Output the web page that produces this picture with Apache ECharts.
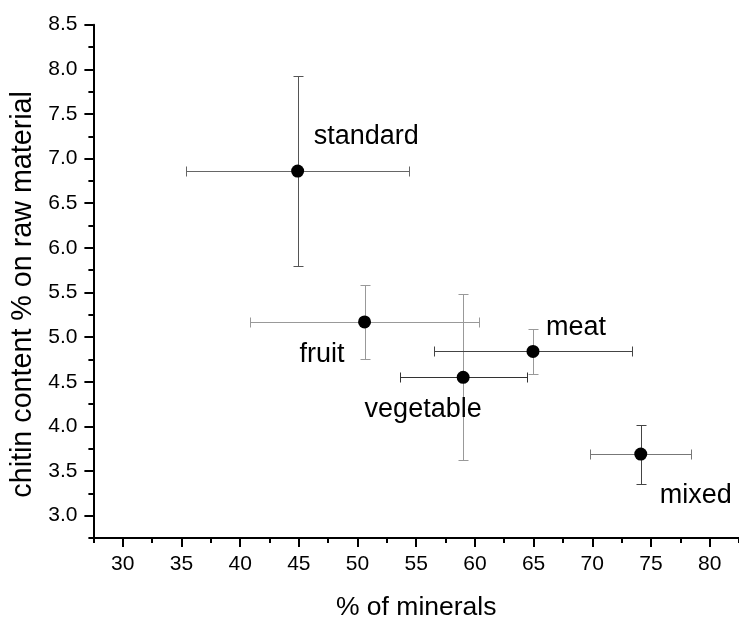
<!DOCTYPE html>
<html><head><meta charset="utf-8">
<script src="https://cdn.jsdelivr.net/npm/echarts@6/dist/echarts.min.js"></script>
<style>html,body{margin:0;padding:0;background:#fff}#c{width:739px;height:626px}</style>
</head><body><div id="c"></div>
<script>
// ---- data ----
const categories = ['standard', 'fruit', 'vegetable', 'meat', 'mixed'];
const mineralPct = [44.9, 50.6, 59.0, 64.95, 74.13];
const chitinPct  = [6.86, 5.17, 4.55, 4.84, 3.69];
const mineralErr = [9.5, 9.72, 5.42, 8.4, 4.3];
const chitinErr  = [1.06, 0.41, 0.93, 0.25, 0.33];
const xTickLabels = [30, 35, 40, 45, 50, 55, 60, 65, 70, 75, 80];
const yTickLabels = [3.0, 3.5, 4.0, 4.5, 5.0, 5.5, 6.0, 6.5, 7.0, 7.5, 8.0, 8.5];
const xTitle = '% of minerals';
const yTitle = 'chitin content % on raw material';

// ---- styles ----
const FONT = '"Liberation Sans", Arial, sans-serif';
const labelPlace = {
  standard:  {align: 'left',   dx: 16,  dy: -35},
  fruit:     {align: 'right',  dx: -20, dy: 33},
  vegetable: {align: 'center', dx: -40, dy: 32},
  meat:      {align: 'left',   dx: 13,  dy: -24},
  mixed:     {align: 'left',   dx: 19,  dy: 41}
};
const errColor = {
  standard:  {h: '#666', v: '#555'},
  fruit:     {h: '#999', v: '#999'},
  vegetable: {h: '#333', v: '#999'},
  meat:      {h: '#444', v: '#999'},
  mixed:     {h: '#777', v: '#444'}
};

const chart = echarts.init(document.getElementById('c'), null, {renderer: 'canvas'});

const errData = categories.map((c, i) => [mineralPct[i], chitinPct[i], mineralErr[i], chitinErr[i]]);
const ptData = categories.map((c, i) => ({
  name: c,
  value: [mineralPct[i], chitinPct[i]],
  label: {
    show: true, position: 'inside', align: labelPlace[c].align, verticalAlign: 'middle',
    offset: [labelPlace[c].dx, labelPlace[c].dy]
  }
}));

const px = v => Math.round(v) + 0.5;

function renderErr(params, api) {
  const x = api.value(0), y = api.value(1), ex = api.value(2), ey = api.value(3);
  const name = categories[params.dataIndex];
  const hc = errColor[name].h, vc = errColor[name].v;
  const c = api.coord([x, y]);
  const l = api.coord([x - ex, y]), r = api.coord([x + ex, y]);
  const t = api.coord([x, y + ey]), b = api.coord([x, y - ey]);
  const cap = 5;
  const cx = px(c[0]), cy = px(c[1]);
  const hs = {stroke: hc, lineWidth: 1}, vs = {stroke: vc, lineWidth: 1};
  return {type: 'group', children: [
    {type: 'line', shape: {x1: px(l[0]), y1: cy, x2: px(r[0]), y2: cy}, style: hs},
    {type: 'line', shape: {x1: px(l[0]), y1: cy - cap, x2: px(l[0]), y2: cy + cap}, style: hs},
    {type: 'line', shape: {x1: px(r[0]), y1: cy - cap, x2: px(r[0]), y2: cy + cap}, style: hs},
    {type: 'line', shape: {x1: cx, y1: px(t[1]), x2: cx, y2: px(b[1])}, style: vs},
    {type: 'line', shape: {x1: cx - cap, y1: px(t[1]), x2: cx + cap, y2: px(t[1])}, style: vs},
    {type: 'line', shape: {x1: cx - cap, y1: px(b[1]), x2: cx + cap, y2: px(b[1])}, style: vs}
  ]};
}

const X_MIN = 27.5, X_MAX = 82.5, Y_MIN = 2.75, Y_MAX = 8.5;
const axisLineStyle = {color: '#000', width: 2};

chart.setOption({
  animation: false,
  backgroundColor: '#fff',
  textStyle: {fontFamily: FONT},
  grid: {left: 93.4, right: -5.6, top: 24.7, bottom: 78.5, containLabel: false},
  xAxis: [
    {
      type: 'value', min: X_MIN, max: X_MAX, position: 'bottom',
      axisLine: {show: true, onZero: false, lineStyle: axisLineStyle},
      axisTick: {show: true, customValues: xTickLabels, length: 9, lineStyle: {color: '#000', width: 2}},
      axisLabel: {customValues: xTickLabels, fontSize: 21, color: '#000', margin: 16, fontFamily: FONT},
      splitLine: {show: false},
      name: xTitle, nameLocation: 'middle', nameGap: 56,
      nameTextStyle: {fontSize: 26.5, color: '#000', fontFamily: FONT}
    },
    {
      type: 'value', min: X_MIN, max: X_MAX, interval: 5, position: 'bottom',
      axisLine: {show: false, onZero: false},
      axisTick: {show: true, length: 5, lineStyle: {color: '#000', width: 2}},
      axisLabel: {show: false},
      splitLine: {show: false}
    }
  ],
  yAxis: [
    {
      type: 'value', min: Y_MIN, max: Y_MAX, position: 'left',
      axisLine: {show: true, onZero: false, lineStyle: axisLineStyle},
      axisTick: {show: true, customValues: yTickLabels, length: 9, lineStyle: {color: '#000', width: 2}},
      axisLabel: {customValues: yTickLabels, fontSize: 21, color: '#000', margin: 16, fontFamily: FONT,
                  formatter: v => Number(v).toFixed(1)},
      splitLine: {show: false},
      name: yTitle, nameLocation: 'middle', nameGap: 54,
      nameTextStyle: {fontSize: 28.7, color: '#000', fontFamily: FONT, padding: [0, 26, 0, 0]}
    },
    {
      type: 'value', min: Y_MIN, max: Y_MAX, interval: 0.5, position: 'left',
      axisLine: {show: false, onZero: false},
      axisTick: {show: true, length: 5, lineStyle: {color: '#000', width: 2}},
      axisLabel: {show: false},
      splitLine: {show: false}
    }
  ],
  series: [
    {
      type: 'custom', xAxisIndex: 0, yAxisIndex: 0, renderItem: renderErr,
      data: errData, z: 2, silent: true
    },
    {
      type: 'scatter', xAxisIndex: 0, yAxisIndex: 0, data: ptData,
      symbol: 'circle', symbolSize: 13, itemStyle: {color: '#000', opacity: 1}, z: 3,
      label: {show: true, formatter: p => p.name, fontSize: 27, color: '#000', opacity: 1, fontFamily: FONT}
    }
  ]
});
</script>
</body></html>
